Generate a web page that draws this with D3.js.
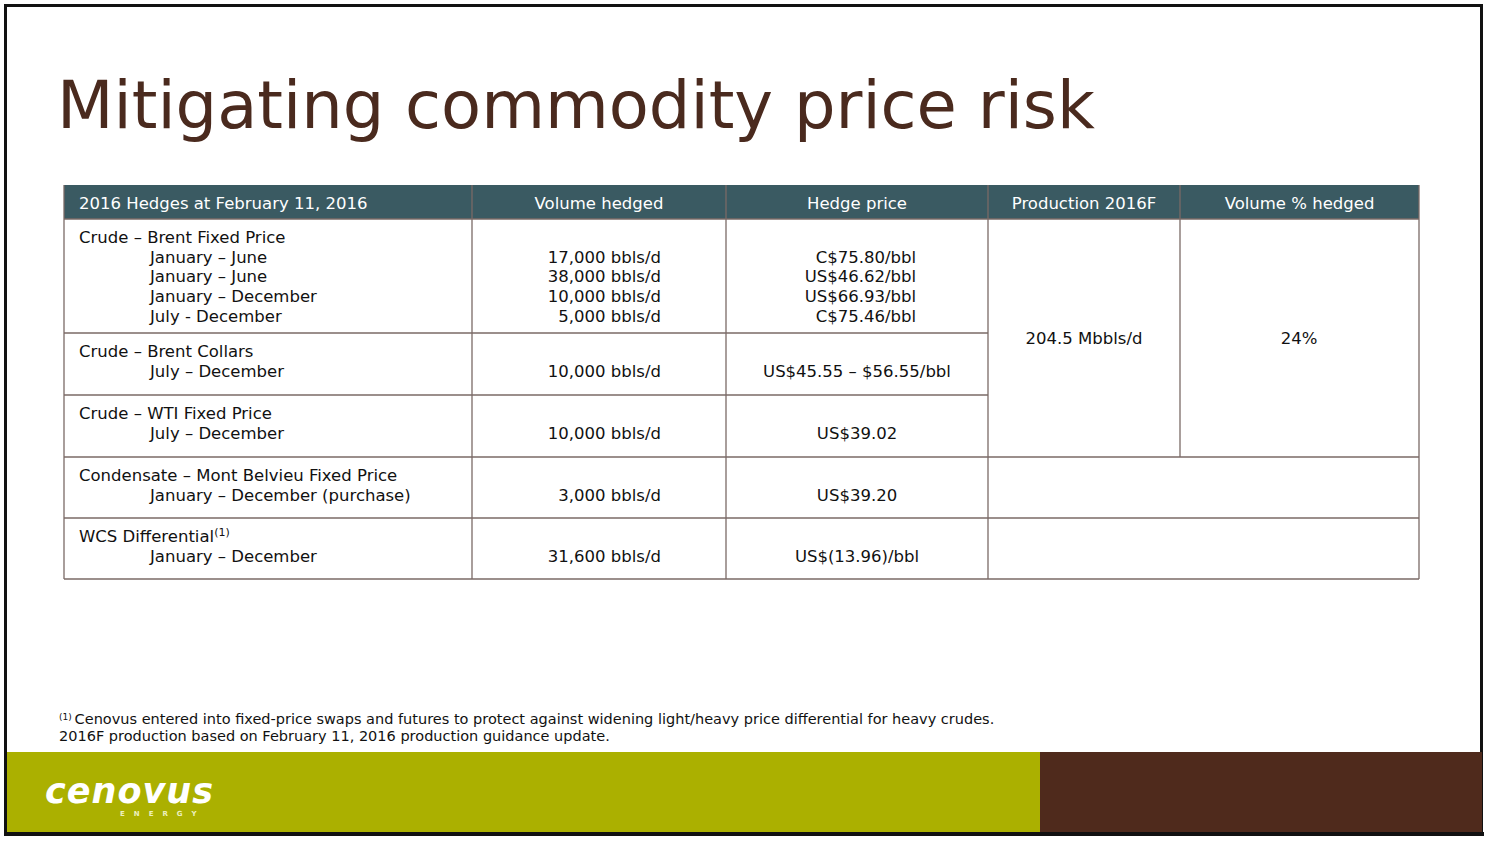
<!DOCTYPE html><html><head><meta charset="utf-8">
<script src="https://cdn.jsdelivr.net/npm/d3@7"></script>
<style>body{margin:0;background:#fff}</style></head><body><svg id="c" width="1488" height="842"></svg>
<script>
const title = "Mitigating commodity price risk";
const headers = ["2016 Hedges at February 11, 2016","Volume hedged","Hedge price","Production 2016F","Volume % hedged"];
const groups = ["Crude – Brent Fixed Price","Crude – Brent Collars","Crude – WTI Fixed Price","Condensate – Mont Belvieu Fixed Price","WCS Differential"];
const periods = [["January – June","January – June","January – December","July - December"],["July – December"],["July – December"],["January – December (purchase)"],["January – December"]];
const volumes = [["17,000 bbls/d","38,000 bbls/d","10,000 bbls/d","5,000 bbls/d"],["10,000 bbls/d"],["10,000 bbls/d"],["3,000 bbls/d"],["31,600 bbls/d"]];
const prices = [["C$75.80/bbl","US$46.62/bbl","US$66.93/bbl","C$75.46/bbl"],["US$45.55 – $56.55/bbl"],["US$39.02"],["US$39.20"],["US$(13.96)/bbl"]];
const production = "204.5 Mbbls/d";
const pctHedged = "24%";
const footnotes = ["Cenovus entered into fixed-price swaps and futures to protect against widening light/heavy price differential for heavy crudes.","2016F production based on February 11, 2016 production guidance update."];

const svg = d3.select("#c");
const F = "Verdana, 'DejaVu Sans', sans-serif";
const FS = 16.5;
const colX = [64,472,726,988,1180,1419];
const rowTops = [219,333,395,457,518,579];
svg.append("rect").attr("x",5.5).attr("y",5.5).attr("width",1476).attr("height",828).attr("fill","#fff").attr("stroke","#111").attr("stroke-width",3);
svg.append("text").attr("x",57).attr("y",128).attr("font-family",F).attr("font-size",65.5).attr("fill","#4a2a1e").text(title);
svg.append("rect").attr("x",64).attr("y",185).attr("width",1355).attr("height",34).attr("fill","#3a5a62");
headers.forEach((h,i)=>{
  svg.append("text").attr("x", i==0?79:(colX[i]+colX[i+1])/2).attr("y",209).attr("text-anchor",i==0?"start":"middle")
   .attr("font-family",F).attr("font-size",FS).attr("fill","#fff").text(h);
});
const T = (x,y,t,anchor="start")=>svg.append("text").attr("x",x).attr("y",y).attr("text-anchor",anchor).attr("font-family",F).attr("font-size",FS).attr("fill","#111").text(t);
groups.forEach((g,i)=>{
  const y0 = rowTops[i];
  const gt = T(79,y0+24,g);
  if(i==4) gt.append("tspan").attr("font-size",11).attr("dy",-6).text("(1)");
  const yy = j=>y0+24+(j+1)*19.7;
  periods[i].forEach((p,j)=>T(150,yy(j),p));
  volumes[i].forEach((v,j)=>T(661,yy(j),v,"end"));
  prices[i].forEach((v,j)=>{ if(i==0) T(916,yy(j),v,"end"); else T(857,yy(j),v,"middle"); });
});
T(1084,344,production,"middle");
T(1299,344,pctHedged,"middle");
const st="#7a6a66";
const L=(x1,y1,x2,y2)=>svg.append("line").attr("x1",x1).attr("y1",y1).attr("x2",x2).attr("y2",y2).attr("stroke",st).attr("stroke-width",1.3);
rowTops.slice(1).forEach((y,i)=>{ if(i<2) L(64,y,988,y); else L(64,y,1419,y); });
L(64,219,1419,219);
[64,472,726,988,1419].forEach(x=>L(x,185,x,579));
L(1180,185,1180,457);
svg.append("text").attr("x",59).attr("y",724).attr("font-family",F).attr("font-size",14.5).attr("fill","#111")
 .call(t=>{t.append("tspan").attr("font-size",9).attr("dy",-4).text("(1) "); t.append("tspan").attr("dy",4).text(footnotes[0]);});
svg.append("text").attr("x",59).attr("y",741).attr("font-family",F).attr("font-size",14.5).attr("fill","#111").text(footnotes[1]);
svg.append("rect").attr("x",7).attr("y",752).attr("width",1033).attr("height",80).attr("fill","#abb000");
svg.append("rect").attr("x",1040).attr("y",752).attr("width",442).attr("height",80).attr("fill","#4f2a1c");
svg.append("text").attr("x",45).attr("y",803).attr("font-family","'DejaVu Sans', sans-serif").attr("font-weight","bold").attr("font-style","italic").attr("font-size",35).attr("fill","#fff").attr("textLength",168).text("cenovus");
svg.append("text").attr("x",120).attr("y",816).attr("font-family","'DejaVu Sans', sans-serif").attr("font-weight","bold").attr("font-size",7).attr("letter-spacing",9).attr("fill","#eef0c0").text("ENERGY");
svg.append("rect").attr("x",4).attr("y",832).attr("width",1480).attr("height",4).attr("fill","#111");
</script></body></html>
